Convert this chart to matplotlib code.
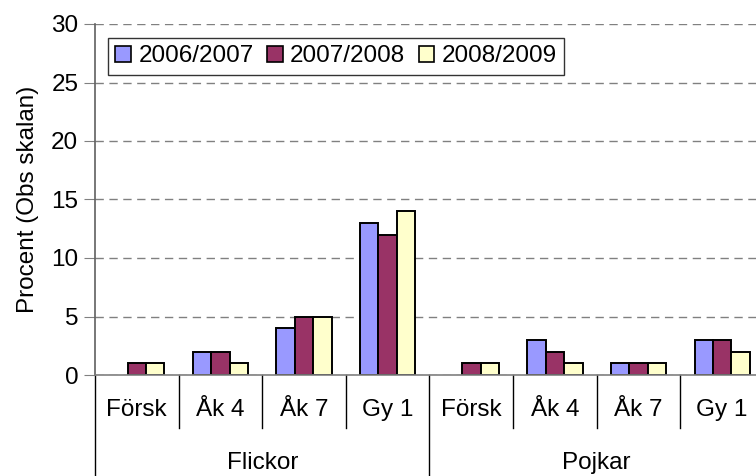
import numpy as np
import matplotlib.pyplot as plt
from matplotlib.patches import Patch

plt.rcParams['font.family'] = ['Liberation Sans', 'DejaVu Sans']

groups = ["Flickor", "Pojkar"]
grades = ["Försk", "Åk 4", "Åk 7", "Gy 1"]
seasons = ["2006/2007", "2007/2008", "2008/2009"]

# values per season: Flickor (4 grades) then Pojkar (4 grades)
v_0607 = [0, 2, 4, 13, 0, 3, 1, 3]
v_0708 = [1, 2, 5, 12, 1, 2, 1, 3]
v_0809 = [1, 1, 5, 14, 1, 1, 1, 2]
values = [v_0607, v_0708, v_0809]
colors = ["#9999FF", "#993366", "#FFFFCC"]

FS = 17.5
W, H = 756, 476
fig = plt.figure(figsize=(W / 100, H / 100), dpi=100)
ax = fig.add_axes([95 / W, 1 - 375 / H, (764 - 95) / W, (375 - 24) / H])

n = len(groups) * len(grades)
x = np.arange(n) + 0.5
bw = 0.22
for k, (vals, col) in enumerate(zip(values, colors)):
    edges = ["black" if v > 0 else "none" for v in vals]
    ax.bar(x + (k - 1) * bw, vals, width=bw, color=col, edgecolor=edges,
           linewidth=1.4, zorder=3)

ax.set_xlim(0, n)
ax.set_ylim(0, 30)
ax.set_yticks(range(0, 31, 5))
ax.yaxis.grid(True, color="#808080", linestyle=(0, (6, 4)), linewidth=1)
ax.set_axisbelow(True)
ax.set_xticks([])
for s in ["top", "right"]:
    ax.spines[s].set_visible(False)
ax.spines["left"].set_color("#606060")
ax.spines["bottom"].set_color("#808080")
ax.spines["bottom"].set_zorder(4)
for s in ["left", "bottom"]:
    ax.spines[s].set_linewidth(1.2)
ax.tick_params(axis="y", direction="out", length=8, color="#808080",
               labelsize=FS, pad=4)
ax.set_ylabel("Procent (Obs skalan)", fontsize=FS, labelpad=9)

# category labels below the axis
trans = ax.get_xaxis_transform()
def fy(py):
    return (375 - py) / (375 - 24)

for i in range(n):
    ax.text(x[i], fy(410), grades[i % len(grades)], transform=trans,
            ha="center", va="center", fontsize=FS)
for i in range(n + 1):
    y_end = fy(476) if i % len(grades) == 0 else fy(428)
    ax.plot([i, i], [0, y_end], transform=trans, color="black",
            linewidth=1, clip_on=False)
for j, g in enumerate(groups):
    ax.text(j * len(grades) + len(grades) / 2, fy(463), g, transform=trans,
            ha="center", va="center", fontsize=FS)

handles = [Patch(facecolor=c, edgecolor="black", linewidth=1.2) for c in colors]
leg = ax.legend(handles, seasons, ncol=3, loc="upper left",
                bbox_to_anchor=(108 / W, 1 - 38 / H), bbox_transform=fig.transFigure,
                fontsize=FS, frameon=True, fancybox=False, borderpad=0.3,
                handlelength=0.65, handleheight=0.65, handletextpad=0.3,
                columnspacing=0.55, borderaxespad=0)
leg.get_frame().set_edgecolor("black")
leg.get_frame().set_linewidth(1)

fig.savefig("out.png", dpi=100)
